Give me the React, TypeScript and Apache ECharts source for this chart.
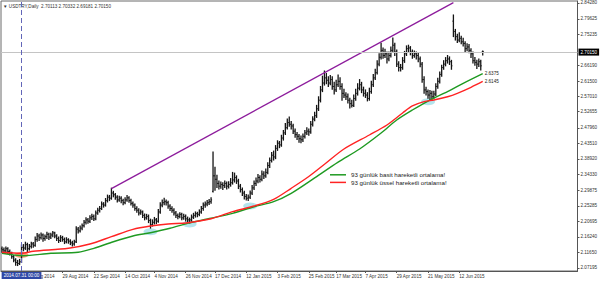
import React, { useEffect, useRef } from "react";
import * as echarts from "echarts";

// ---- data (USDTRY daily, [open, high, low, close]) ----
const bars: number[][] = [
  [2.128,2.133,2.118,2.125],[2.125,2.130,2.116,2.122],[2.122,2.133,2.119,2.128],[2.128,2.131,2.114,2.120],[2.120,2.124,2.110,2.115],
  [2.115,2.118,2.100,2.105],[2.105,2.108,2.090,2.095],[2.095,2.099,2.080,2.088],[2.088,2.094,2.079,2.085],[2.085,2.097,2.082,2.090],
  [2.090,2.139,2.088,2.132],[2.132,2.140,2.122,2.130],[2.130,2.147,2.126,2.140],[2.140,2.144,2.120,2.128],[2.128,2.140,2.124,2.135],
  [2.135,2.147,2.130,2.142],[2.142,2.146,2.132,2.138],[2.138,2.162,2.135,2.155],[2.155,2.172,2.150,2.165],[2.165,2.170,2.152,2.160],
  [2.160,2.174,2.156,2.168],[2.168,2.171,2.150,2.158],[2.158,2.168,2.153,2.163],[2.163,2.176,2.158,2.170],[2.170,2.173,2.155,2.162],
  [2.162,2.173,2.158,2.168],[2.168,2.178,2.163,2.174],[2.174,2.176,2.160,2.165],[2.165,2.169,2.152,2.158],[2.158,2.162,2.146,2.152],
  [2.152,2.166,2.149,2.160],[2.160,2.164,2.150,2.155],[2.155,2.159,2.143,2.148],[2.148,2.160,2.145,2.154],[2.154,2.157,2.144,2.150],
  [2.150,2.154,2.140,2.145],[2.145,2.150,2.136,2.142],[2.142,2.153,2.138,2.148],[2.148,2.192,2.146,2.185],[2.185,2.190,2.174,2.180],
  [2.180,2.194,2.177,2.188],[2.188,2.200,2.183,2.195],[2.195,2.210,2.191,2.205],[2.205,2.218,2.200,2.212],[2.212,2.216,2.202,2.208],
  [2.208,2.224,2.204,2.218],[2.218,2.228,2.213,2.222],[2.222,2.226,2.210,2.215],[2.215,2.238,2.212,2.232],[2.232,2.246,2.228,2.240],
  [2.240,2.251,2.235,2.245],[2.245,2.264,2.242,2.258],[2.258,2.262,2.249,2.255],[2.255,2.274,2.252,2.268],[2.268,2.284,2.264,2.278],
  [2.278,2.283,2.268,2.275],[2.275,2.304,2.272,2.290],[2.290,2.295,2.279,2.285],[2.285,2.289,2.272,2.278],[2.278,2.282,2.264,2.270],
  [2.270,2.281,2.266,2.275],[2.275,2.279,2.262,2.268],[2.268,2.272,2.256,2.262],[2.262,2.276,2.259,2.270],[2.270,2.283,2.266,2.276],
  [2.276,2.279,2.263,2.268],[2.268,2.272,2.255,2.260],[2.260,2.264,2.249,2.255],[2.255,2.258,2.240,2.245],[2.245,2.250,2.234,2.240],
  [2.240,2.244,2.226,2.232],[2.232,2.241,2.228,2.235],[2.235,2.238,2.219,2.225],[2.225,2.229,2.212,2.218],[2.218,2.228,2.214,2.222],
  [2.222,2.226,2.204,2.210],[2.210,2.214,2.188,2.198],[2.198,2.212,2.194,2.205],[2.205,2.219,2.200,2.212],[2.212,2.216,2.201,2.208],
  [2.208,2.242,2.205,2.235],[2.235,2.262,2.231,2.255],[2.255,2.270,2.250,2.262],[2.262,2.275,2.256,2.265],[2.265,2.270,2.255,2.262],
  [2.262,2.266,2.246,2.252],[2.252,2.256,2.239,2.245],[2.245,2.250,2.234,2.240],[2.240,2.244,2.226,2.232],[2.232,2.236,2.219,2.225],
  [2.225,2.229,2.215,2.222],[2.222,2.233,2.218,2.228],[2.228,2.231,2.212,2.218],[2.218,2.228,2.214,2.222],[2.222,2.226,2.209,2.215],
  [2.215,2.220,2.205,2.212],[2.212,2.217,2.203,2.212],[2.212,2.226,2.208,2.220],[2.220,2.231,2.216,2.225],[2.225,2.235,2.220,2.230],
  [2.230,2.234,2.221,2.228],[2.228,2.241,2.224,2.235],[2.235,2.251,2.231,2.245],[2.245,2.261,2.240,2.255],[2.255,2.264,2.249,2.258],
  [2.258,2.268,2.253,2.262],[2.262,2.271,2.257,2.265],[2.265,2.276,2.260,2.270],[2.295,2.409,2.293,2.340],[2.340,2.365,2.298,2.330],
  [2.330,2.342,2.306,2.318],[2.318,2.325,2.302,2.310],[2.310,2.322,2.304,2.315],[2.315,2.320,2.300,2.312],[2.312,2.325,2.306,2.318],
  [2.318,2.322,2.302,2.310],[2.310,2.323,2.305,2.315],[2.315,2.332,2.310,2.320],[2.320,2.350,2.316,2.328],[2.328,2.348,2.322,2.335],
  [2.335,2.340,2.318,2.325],[2.325,2.330,2.303,2.310],[2.310,2.315,2.293,2.300],[2.300,2.305,2.283,2.290],[2.290,2.295,2.273,2.280],
  [2.280,2.286,2.270,2.275],[2.275,2.284,2.268,2.278],[2.278,2.296,2.274,2.290],[2.290,2.312,2.286,2.305],[2.305,2.325,2.300,2.318],
  [2.318,2.334,2.312,2.325],[2.325,2.344,2.320,2.335],[2.335,2.340,2.322,2.330],[2.330,2.354,2.326,2.345],[2.345,2.352,2.332,2.340],
  [2.340,2.360,2.336,2.350],[2.350,2.378,2.346,2.370],[2.370,2.392,2.364,2.385],[2.385,2.408,2.380,2.400],[2.400,2.412,2.386,2.395],
  [2.395,2.428,2.390,2.420],[2.420,2.442,2.414,2.435],[2.435,2.440,2.422,2.430],[2.430,2.458,2.426,2.450],[2.450,2.472,2.444,2.465],
  [2.465,2.492,2.460,2.480],[2.480,2.505,2.476,2.495],[2.495,2.511,2.484,2.490],[2.490,2.498,2.476,2.485],[2.485,2.490,2.463,2.470],
  [2.470,2.476,2.452,2.460],[2.460,2.466,2.446,2.455],[2.455,2.460,2.438,2.448],[2.448,2.456,2.436,2.445],[2.445,2.462,2.440,2.455],
  [2.455,2.472,2.450,2.465],[2.465,2.480,2.460,2.470],[2.470,2.476,2.458,2.468],[2.468,2.498,2.464,2.490],[2.490,2.512,2.485,2.505],
  [2.505,2.525,2.500,2.515],[2.515,2.545,2.510,2.535],[2.535,2.570,2.530,2.560],[2.560,2.600,2.555,2.590],[2.590,2.630,2.585,2.610],
  [2.610,2.645,2.604,2.625],[2.625,2.638,2.608,2.618],[2.618,2.628,2.600,2.610],[2.610,2.632,2.605,2.620],[2.620,2.628,2.592,2.600],
  [2.600,2.612,2.578,2.590],[2.590,2.618,2.585,2.605],[2.605,2.633,2.600,2.615],[2.615,2.625,2.592,2.600],[2.600,2.608,2.560,2.580],
  [2.580,2.592,2.568,2.575],[2.575,2.582,2.562,2.570],[2.570,2.578,2.552,2.560],[2.560,2.566,2.537,2.550],[2.550,2.560,2.540,2.545],
  [2.545,2.575,2.542,2.565],[2.565,2.592,2.560,2.580],[2.580,2.608,2.575,2.595],[2.595,2.620,2.590,2.605],[2.605,2.612,2.582,2.590],
  [2.590,2.598,2.572,2.580],[2.580,2.590,2.568,2.575],[2.575,2.582,2.558,2.565],[2.565,2.595,2.560,2.585],[2.585,2.615,2.580,2.605],
  [2.605,2.635,2.600,2.625],[2.625,2.650,2.620,2.640],[2.640,2.675,2.636,2.665],[2.665,2.695,2.660,2.685],[2.685,2.726,2.680,2.705],
  [2.705,2.712,2.682,2.690],[2.690,2.708,2.684,2.695],[2.695,2.700,2.668,2.680],[2.680,2.700,2.675,2.690],[2.690,2.715,2.686,2.705],
  [2.705,2.741,2.700,2.720],[2.720,2.726,2.690,2.700],[2.700,2.706,2.658,2.665],[2.665,2.672,2.645,2.655],[2.655,2.664,2.645,2.655],
  [2.655,2.684,2.650,2.675],[2.675,2.702,2.670,2.695],[2.695,2.718,2.690,2.710],[2.710,2.720,2.700,2.712],[2.712,2.716,2.692,2.700],
  [2.700,2.706,2.682,2.690],[2.690,2.703,2.685,2.695],[2.695,2.700,2.680,2.690],[2.690,2.697,2.672,2.680],[2.680,2.686,2.657,2.665],
  [2.665,2.670,2.612,2.620],[2.620,2.628,2.580,2.590],[2.590,2.598,2.575,2.585],[2.585,2.590,2.566,2.575],[2.575,2.588,2.561,2.580],
  [2.580,2.586,2.563,2.570],[2.570,2.586,2.566,2.578],[2.578,2.608,2.574,2.600],[2.600,2.624,2.595,2.615],[2.615,2.642,2.610,2.635],
  [2.635,2.662,2.630,2.655],[2.655,2.675,2.650,2.665],[2.665,2.684,2.660,2.675],[2.675,2.690,2.668,2.680],[2.680,2.686,2.664,2.672],
  [2.672,2.676,2.650,2.660],[2.790,2.808,2.745,2.760],[2.760,2.766,2.735,2.745],[2.745,2.752,2.728,2.735],[2.735,2.756,2.730,2.740],
  [2.740,2.746,2.724,2.730],[2.730,2.740,2.718,2.725],[2.725,2.730,2.700,2.710],[2.710,2.724,2.704,2.715],[2.715,2.722,2.698,2.705],
  [2.705,2.710,2.684,2.695],[2.695,2.700,2.668,2.675],[2.675,2.684,2.662,2.670],[2.670,2.676,2.652,2.665],[2.665,2.680,2.658,2.672],
  [2.672,2.676,2.648,2.660],[2.70113,2.70332,2.69181,2.70150],
];

// Trading calendar: weekdays from the first bar, minus closed days; empty slots on the right (chart shift)
const firstDay = [2014, 6, 17]; // 17 Jul 2014 (month 0-based)
const closedDays = ["2014-12-25", "2015-01-01"];
const totalSlots = 295;
const MONTHS = ["Jan","Feb","Mar","Apr","May","Jun","Jul","Aug","Sep","Oct","Nov","Dec"];

const dateTickLabels = [
  "7 Aug 2014","29 Aug 2014","22 Sep 2014","14 Oct 2014","4 Nov 2014","26 Nov 2014","17 Dec 2014",
  "12 Jan 2015","3 Feb 2015","25 Feb 2015","17 Mar 2015","7 Apr 2015","29 Apr 2015","21 May 2015","12 Jun 2015",
];
const priceTickLabels = [
  2.07195, 2.1165, 2.1624, 2.20695, 2.25285, 2.29875, 2.3433, 2.3892, 2.4351,
  2.4796, 2.52655, 2.5701, 2.615, 2.6619, 2.75235, 2.79625, 2.8428,
];
const priceMin = 2.0632;
const priceMax = 2.8486;

// 93-day moving averages: [bar index, price]
const smaPoints: number[][] = [
  [0,2.115],[11,2.1077],[25,2.1147],[39,2.1176],[47,2.1292],[57,2.1484],[67,2.165],[76,2.1746],
  [86,2.1874],[95,2.2019],[107,2.2165],[118,2.231],[129,2.2502],[139,2.2648],[148,2.2892],[160,2.334],
  [172,2.38],[183,2.4181],[194,2.4646],[202,2.5024],[210,2.5315],[219,2.5606],[228,2.5848],[236,2.6092],[246,2.6375],
];
const emaPoints: number[][] = [
  [0,2.1176],[10,2.1147],[16,2.1205],[34,2.1292],[45,2.1417],[56,2.163],[67,2.1845],[76,2.1941],
  [85,2.1999],[95,2.2037],[107,2.2153],[118,2.2357],[129,2.2523],[139,2.2718],[148,2.3038],[157,2.338],
  [166,2.378],[175,2.4181],[188,2.4588],[197,2.4879],[205,2.5228],[210,2.5432],[216,2.5557],[221,2.5606],
  [228,2.5702],[233,2.5801],[240,2.5976],[246,2.6145],
];
const trendPoints: number[][] = [[56, 2.303], [231, 2.844]];
const touchPoints: number[][] = [[76, 2.1775], [96, 2.2], [127, 2.2523], [218, 2.5557]];
const entryPoints: number[][] = [[10, 2.1097]];
const lastQuote = [2.70113, 2.70332, 2.69181, 2.7015];
const symbolName = "USDTRY,Daily";
const separatorDate = "31 Jul 2014";
const separatorText = "2014.07.31 00:00";
const smaName = "93 günlük basit hareketli ortalama!";
const emaName = "93 günlük üssel hareketli ortalama!";

function buildCategories(): string[] {
  const out: string[] = [];
  const d = new Date(Date.UTC(firstDay[0], firstDay[1], firstDay[2]));
  while (out.length < totalSlots) {
    const wd = d.getUTCDay();
    const iso = d.toISOString().slice(0, 10);
    if (wd !== 0 && wd !== 6 && !closedDays.includes(iso)) {
      out.push(`${d.getUTCDate()} ${MONTHS[d.getUTCMonth()]} ${d.getUTCFullYear()}`);
    }
    d.setUTCDate(d.getUTCDate() + 1);
  }
  return out;
}

const FONT = "'Liberation Sans', Arial, sans-serif";

export default function App() {
  const ref = useRef<HTMLDivElement>(null);
  useEffect(() => {
    if (!ref.current) return;
    const chart = echarts.init(ref.current, null, { renderer: "svg" });
    const categories = buildCategories();
    const tickSet = new Set(dateTickLabels);
    const showTick = (_i: number, v: string) => tickSet.has(v);
    const barStroke = "#151515";

    chart.setOption({
      animation: false,
      backgroundColor: "#ffffff",
      textStyle: { fontFamily: FONT },
      grid: {
        left: 1, right: 22.5, top: 1, bottom: 11,
        show: true, borderColor: "#6a6a6a", borderWidth: 1,
        containLabel: false, outerBoundsMode: "none",
      },
      legend: {
        data: [smaName, emaName],
        orient: "vertical",
        left: 330, top: 171.3,
        padding: 0, itemGap: 0.6,
        itemWidth: 16, itemHeight: 1.5, icon: "rect",
        selectedMode: false,
        textStyle: { fontSize: 6.2, color: "#222", fontFamily: FONT, lineHeight: 7 },
      },
      xAxis: {
        type: "category",
        data: categories,
        boundaryGap: true,
        axisLine: { show: true, lineStyle: { color: "#555", width: 1 } },
        axisTick: { show: true, interval: showTick, alignWithLabel: true, length: 2, lineStyle: { color: "#555" } },
        axisLabel: {
          interval: showTick, align: "left", margin: 3,
          fontSize: 4.6, color: "#333", fontFamily: FONT,
        },
        splitLine: { show: false },
      },
      yAxis: {
        type: "value",
        position: "right",
        min: priceMin, max: priceMax,
        axisLine: { show: true, lineStyle: { color: "#555", width: 1 } },
        axisTick: { show: true, length: 2, customValues: priceTickLabels, lineStyle: { color: "#555" } },
        axisLabel: {
          customValues: priceTickLabels,
          formatter: (v: number) => v.toFixed(5),
          fontSize: 4.6, color: "#333", margin: 3, fontFamily: FONT,
        },
        splitLine: { show: false },
      },
      graphic: [
        {
          type: "text", left: 3, top: 3.5, silent: true,
          style: {
            text: `▼ ${symbolName}  ${lastQuote.map((v) => v.toFixed(5)).join(" ")}`,
            fontSize: 4.6, fill: "#333", fontFamily: FONT,
          },
        },
      ],
      series: [
        {
          type: "scatter", name: "touch", silent: true,
          data: touchPoints, symbol: "circle", symbolSize: [14, 7],
          itemStyle: { color: "rgba(140, 212, 226, 0.8)" }, z: 1,
        },
        {
          type: "scatter", name: "entry", silent: true,
          data: entryPoints, symbol: "circle", symbolSize: [14, 6],
          itemStyle: { color: "rgba(242, 112, 52, 0.85)" }, z: 1,
        },
        {
          type: "custom", name: "bars", silent: true, z: 2,
          data: bars.map((b, i) => [i, b[0], b[1], b[2], b[3]]),
          encode: { x: 0, y: [1, 2, 3, 4] },
          renderItem: (_params: any, api: any) => {
            const i = api.value(0);
            const pO = api.coord([i, api.value(1)]);
            const pH = api.coord([i, api.value(2)]);
            const pL = api.coord([i, api.value(3)]);
            const pC = api.coord([i, api.value(4)]);
            const x = pH[0];
            const vStyle = { stroke: barStroke, lineWidth: 1.3 };
            const tStyle = { stroke: barStroke, lineWidth: 1 };
            return {
              type: "group",
              children: [
                { type: "line", shape: { x1: x, y1: pH[1] - 0.5, x2: x, y2: pL[1] + 0.5 }, style: vStyle },
                { type: "line", shape: { x1: x - 1, y1: pO[1], x2: x, y2: pO[1] }, style: tStyle },
                { type: "line", shape: { x1: x, y1: pC[1], x2: x + 1, y2: pC[1] }, style: tStyle },
              ],
            };
          },
        },
        {
          type: "line", name: smaName, data: smaPoints, smooth: 0.3,
          symbol: "none", showSymbol: false, z: 3,
          lineStyle: { color: "#1f9a22", width: 1.4 }, itemStyle: { color: "#1f9a22" },
          endLabel: {
            show: true, distance: 2, fontSize: 4.6, color: "#222", fontFamily: FONT,
            formatter: (p: any) => Number(p.value[1]).toFixed(4),
          },
        },
        {
          type: "line", name: emaName, data: emaPoints, smooth: 0.3,
          symbol: "none", showSymbol: false, z: 3,
          lineStyle: { color: "#ff2323", width: 1.4 }, itemStyle: { color: "#ff2323" },
          endLabel: {
            show: true, distance: 2, fontSize: 4.6, color: "#222", fontFamily: FONT,
            formatter: (p: any) => Number(p.value[1]).toFixed(4),
          },
        },
        {
          type: "line", name: "trend", data: trendPoints,
          symbol: "none", showSymbol: false, z: 4, silent: true,
          lineStyle: { color: "#8d1c9c", width: 1.3 },
          markLine: {
            silent: true, symbol: ["none", "none"], animation: false,
            data: [
              {
                yAxis: lastQuote[3],
                lineStyle: { color: "#c4c4c4", width: 1, type: "solid" },
                label: {
                  show: true, position: "end", distance: 1,
                  formatter: () => lastQuote[3].toFixed(5),
                  backgroundColor: "#000", color: "#fff",
                  fontSize: 4.6, padding: [1, 2, 1, 2], fontFamily: FONT,
                },
              },
              {
                xAxis: separatorDate,
                lineStyle: { color: "#6266b8", width: 1, type: [5, 3] },
                label: {
                  show: true, position: "start", distance: 1,
                  formatter: () => separatorText,
                  backgroundColor: "#2f48a6", color: "#fff",
                  fontSize: 4.6, padding: [1, 2, 1, 2], fontFamily: FONT,
                },
              },
            ],
          },
        },
      ],
    });
    return () => chart.dispose();
  }, []);

  return (
    <div
      ref={ref}
      style={{ position: "absolute", left: 0, top: 0, width: 600, height: 282, background: "#fff" }}
    />
  );
}
